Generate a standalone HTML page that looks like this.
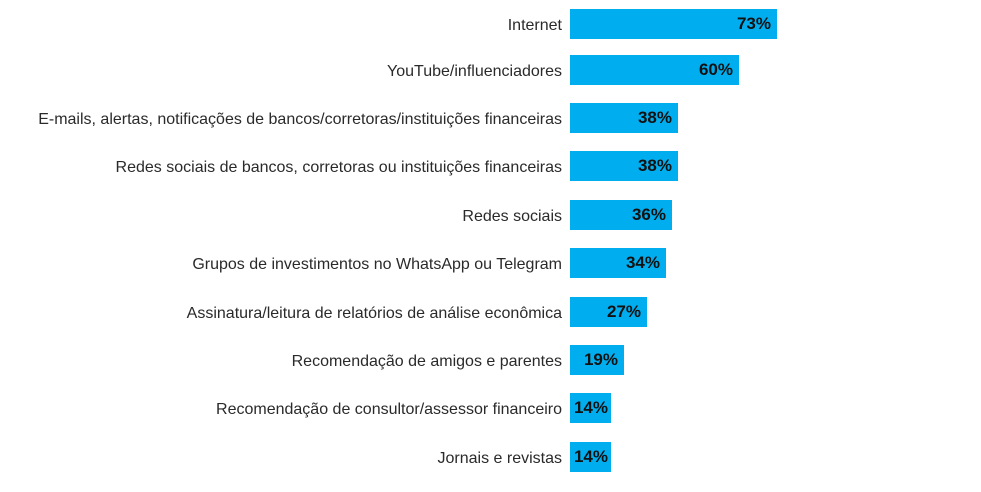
<!DOCTYPE html>
<html><head><meta charset="utf-8"><style>
body{margin:0;width:981px;height:492px;background:#fff;position:relative;overflow:hidden;font-family:"Liberation Sans",sans-serif}
.l{position:absolute;right:419px;font-size:16px;color:#2a2a2a;white-space:nowrap;line-height:30px;margin-top:2px}
.b{position:absolute;left:570px;height:30px;background:#00aeef}
.b span{position:absolute;right:6px;top:0;line-height:30px;font-weight:bold;font-size:17px;color:#111}
</style></head><body>
<div class="l" style="top:9px">Internet</div><div class="b" style="top:9px;width:207px"><span>73%</span></div>
<div class="l" style="top:55px">YouTube/influenciadores</div><div class="b" style="top:55px;width:169px"><span>60%</span></div>
<div class="l" style="top:103px">E-mails, alertas, notificações de bancos/corretoras/instituições financeiras</div><div class="b" style="top:103px;width:108px"><span>38%</span></div>
<div class="l" style="top:151px">Redes sociais de bancos, corretoras ou instituições financeiras</div><div class="b" style="top:151px;width:108px"><span>38%</span></div>
<div class="l" style="top:200px">Redes sociais</div><div class="b" style="top:200px;width:102px"><span>36%</span></div>
<div class="l" style="top:248px">Grupos de investimentos no WhatsApp ou Telegram</div><div class="b" style="top:248px;width:96px"><span>34%</span></div>
<div class="l" style="top:297px">Assinatura/leitura de relatórios de análise econômica</div><div class="b" style="top:297px;width:77px"><span>27%</span></div>
<div class="l" style="top:345px">Recomendação de amigos e parentes</div><div class="b" style="top:345px;width:54px"><span>19%</span></div>
<div class="l" style="top:393px">Recomendação de consultor/assessor financeiro</div><div class="b" style="top:393px;width:41px"><span style="right:3px">14%</span></div>
<div class="l" style="top:442px">Jornais e revistas</div><div class="b" style="top:442px;width:41px"><span style="right:3px">14%</span></div>
</body></html>
